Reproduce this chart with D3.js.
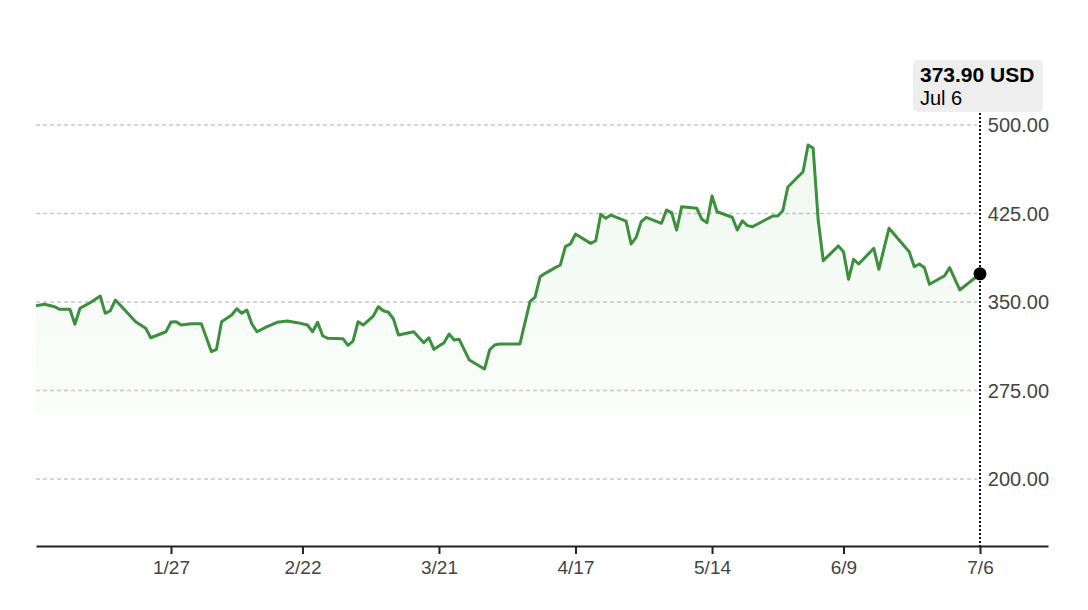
<!DOCTYPE html>
<html>
<head>
<meta charset="utf-8">
<script src="https://cdn.jsdelivr.net/npm/d3@7"></script>
<style>
  html, body { margin: 0; padding: 0; background: #fff; }
  svg { display: block; font-family: "Liberation Sans", Arial, Helvetica, sans-serif; }
</style>
</head>
<body>
<svg id="chart" width="1088" height="610"></svg>
<script>
// ---- DATA ----
const dates = [
  "2022-12-31","2023-01-02","2023-01-04","2023-01-05","2023-01-07","2023-01-08","2023-01-09","2023-01-11",
  "2023-01-13","2023-01-14","2023-01-15","2023-01-16","2023-01-18","2023-01-20","2023-01-22","2023-01-23",
  "2023-01-26","2023-01-27","2023-01-28","2023-01-29","2023-01-31","2023-02-02","2023-02-04","2023-02-05",
  "2023-02-06","2023-02-08","2023-02-09","2023-02-10","2023-02-11","2023-02-12","2023-02-13","2023-02-15",
  "2023-02-17","2023-02-19","2023-02-21","2023-02-23","2023-02-24","2023-02-25","2023-02-26","2023-02-27",
  "2023-03-02","2023-03-03","2023-03-04","2023-03-05","2023-03-06","2023-03-08","2023-03-09","2023-03-10",
  "2023-03-11","2023-03-12","2023-03-13","2023-03-16","2023-03-17","2023-03-18","2023-03-19","2023-03-20",
  "2023-03-22","2023-03-23","2023-03-24","2023-03-25","2023-03-27","2023-03-30","2023-03-31","2023-04-01",
  "2023-04-02","2023-04-06","2023-04-08","2023-04-09","2023-04-10","2023-04-11","2023-04-13","2023-04-14",
  "2023-04-15","2023-04-16","2023-04-17","2023-04-20","2023-04-21","2023-04-22","2023-04-23","2023-04-24",
  "2023-04-27","2023-04-28","2023-04-29","2023-04-30","2023-05-01","2023-05-04","2023-05-05","2023-05-06",
  "2023-05-07","2023-05-08","2023-05-11","2023-05-12","2023-05-13","2023-05-14","2023-05-15","2023-05-18",
  "2023-05-19","2023-05-20","2023-05-21","2023-05-22","2023-05-26","2023-05-27","2023-05-28","2023-05-29",
  "2023-06-01","2023-06-02","2023-06-03","2023-06-04","2023-06-05","2023-06-08","2023-06-09","2023-06-10",
  "2023-06-11","2023-06-12","2023-06-15","2023-06-16","2023-06-18","2023-06-22","2023-06-23","2023-06-24",
  "2023-06-25","2023-06-26","2023-06-29","2023-06-30","2023-07-02","2023-07-06"
];
const prices = [
  346.6,348.1,346.0,343.8,343.8,331.1,344.7,349.4,
  355.1,340.4,342.6,351.7,342.6,333.3,327.7,319.7,
  324.8,333.1,333.3,330.5,331.6,331.6,307.9,309.9,
  333.3,339.0,344.3,340.4,343.2,331.4,324.8,329.1,
  332.8,333.9,332.5,330.5,324.8,332.8,321.4,319.2,
  318.9,313.3,316.9,333.3,330.5,338.1,346.0,342.6,
  341.3,335.6,322.0,324.8,320.1,315.5,319.7,309.9,
  315.5,322.9,317.8,318.4,300.8,293.2,309.3,313.6,
  314.4,314.4,350.3,354.2,371.4,374.3,379.1,381.4,
  396.9,399.2,407.6,399.7,401.9,424.3,420.9,423.7,
  418.6,399.2,404.8,418.1,421.8,416.7,428.0,425.7,
  411.0,430.8,429.4,420.1,417.2,439.8,426.5,421.8,
  411.0,418.9,414.7,413.8,422.9,422.9,427.4,447.5,
  460.4,483.1,480.3,419.5,385.0,397.5,392.6,369.2,
  386.2,382.2,395.5,377.7,412.5,392.6,379.9,382.2,
  379.1,365.0,372.3,379.1,360.2,373.9
];
const xTickLabels = ["2023-01-27","2023-02-22","2023-03-21","2023-04-17","2023-05-14","2023-06-09","2023-07-06"];
const yTickValues = [200, 275, 350, 425, 500];
const areaBaseValue = 255;
const currency = "USD";

// ---- CHART ----
const parse = d3.timeParse("%Y-%m-%d");
const data = dates.map((d, i) => ({ date: parse(d), value: prices[i] }));
const tickDates = xTickLabels.map(parse);

const plotLeft = 36, plotRight = 1048, axisY = 546;
const xAnchor = d3.scaleTime()
  .domain([tickDates[0], tickDates[tickDates.length - 1]])
  .range([171, 980]);
const x = xAnchor.copy()
  .domain([xAnchor.invert(plotLeft), xAnchor.invert(plotRight)])
  .range([plotLeft, plotRight]);
const y = d3.scaleLinear().domain([200, 500]).range([479, 125]);

const svg = d3.select("#chart");
const green = "#3b8f3d";

const defs = svg.append("defs");
const grad = defs.append("linearGradient")
  .attr("id", "areaGrad").attr("x1", 0).attr("y1", 0).attr("x2", 0).attr("y2", 1);
grad.append("stop").attr("offset", "0%").attr("stop-color", "#5cb85c").attr("stop-opacity", 0.10);
grad.append("stop").attr("offset", "100%").attr("stop-color", "#5cb85c").attr("stop-opacity", 0.02);
defs.append("clipPath").attr("id", "plotClip")
  .append("rect").attr("x", plotLeft).attr("y", 0).attr("width", plotRight - plotLeft).attr("height", axisY);

const last = data[data.length - 1];
const cursorX = x(last.date);

// gridlines
svg.append("g").selectAll("line").data(yTickValues).join("line")
  .attr("x1", plotLeft).attr("x2", cursorX - 3)
  .attr("y1", d => y(d)).attr("y2", d => y(d))
  .attr("stroke", "#c8c8c8").attr("stroke-width", 1.3)
  .attr("stroke-dasharray", "4,3");

// y labels
svg.append("g").selectAll("text").data(yTickValues).join("text")
  .attr("x", plotRight + 1).attr("y", d => y(d)).attr("dy", "0.36em")
  .attr("text-anchor", "end")
  .attr("font-size", 20).attr("fill", "#444")
  .text(d => d3.format(".2f")(d));

// area
const area = d3.area()
  .x(d => x(d.date)).y0(y(areaBaseValue)).y1(d => y(d.value));
svg.append("path").datum(data)
  .attr("clip-path", "url(#plotClip)")
  .attr("d", area).attr("fill", "url(#areaGrad)");

// line
const line = d3.line().x(d => x(d.date)).y(d => y(d.value));
svg.append("path").datum(data)
  .attr("clip-path", "url(#plotClip)")
  .attr("d", line).attr("fill", "none")
  .attr("stroke", green).attr("stroke-width", 3)
  .attr("stroke-linejoin", "round");

// x axis
const xAxis = d3.axisBottom(x).tickValues(tickDates)
  .tickFormat(d3.timeFormat("%-m/%-d")).tickSize(8).tickSizeOuter(0).tickPadding(7);
const gx = svg.append("g").attr("transform", `translate(0,${axisY})`).call(xAxis);
gx.select(".domain").attr("stroke", "#222").attr("stroke-width", 2);
gx.selectAll(".tick line").attr("stroke", "#222").attr("stroke-width", 2);
gx.selectAll(".tick text").attr("font-size", 19).attr("fill", "#444")
  .attr("font-family", "Liberation Sans, Arial, sans-serif");

// cursor
svg.append("line")
  .attr("x1", cursorX).attr("x2", cursorX).attr("y1", 113).attr("y2", axisY)
  .attr("stroke", "#111").attr("stroke-width", 2).attr("stroke-dasharray", "2,2");
svg.append("circle").attr("cx", cursorX).attr("cy", y(last.value)).attr("r", 6.5).attr("fill", "#000");

// tooltip
const tip = svg.append("g");
tip.append("rect").attr("x", 913).attr("y", 60).attr("width", 130).attr("height", 52)
  .attr("rx", 5).attr("fill", "#eeeeee");
tip.append("text").attr("x", 920).attr("y", 81.5)
  .attr("font-size", 21).attr("font-weight", "bold").attr("fill", "#000")
  .text(`${d3.format(".2f")(last.value)} ${currency}`);
tip.append("text").attr("x", 920).attr("y", 105)
  .attr("font-size", 20).attr("fill", "#000")
  .text(d3.timeFormat("%b %-d")(last.date));
</script>
</body>
</html>
